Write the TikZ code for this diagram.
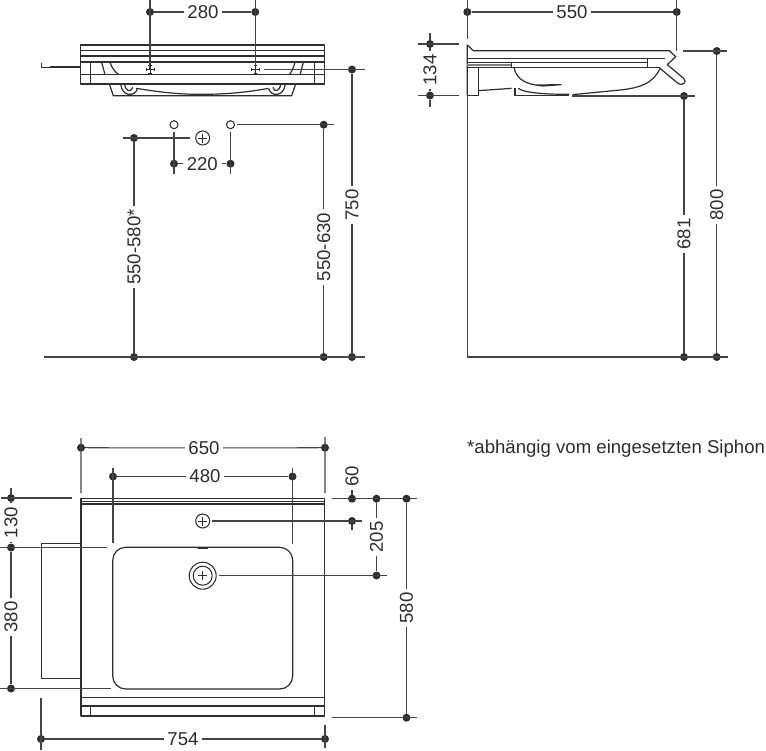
\documentclass[tikz,border=0pt]{standalone}
\usepackage{fontspec}
\setmainfont{Liberation Sans}
\definecolor{ink}{HTML}{2E2E2E}
\definecolor{dimc}{HTML}{444444}
\tikzset{
  outline/.style={draw=ink,line width=1.2pt,line join=round},
  thin outline/.style={draw=ink,line width=.9pt},
  dimline/.style={draw=dimc,line width=1.05pt},
  dimdot/.style={circle,fill=ink,inner sep=0pt,minimum size=8pt},
  dimlabel/.style={text=ink,inner sep=3.5pt,font=\fontsize{18.6}{20}\selectfont},
  vlabel/.style={dimlabel,rotate=90},
  hollow/.style={circle,draw=ink,line width=1.05pt,inner sep=0pt,fill=white},
}
\newcommand{\dd}[3]{\node[dimdot] (#1) at (#2,#3) {};}
\newcommand{\cc}[3]{\coordinate (#1) at (#2,#3);}
\newcommand{\plusmark}[3]{\draw[outline,line width=1pt] (#1-#3,#2) -- (#1+#3,#2) (#1,#2-#3) -- (#1,#2+#3);}
\newcommand{\fixcross}[2]{\draw[outline,line width=1pt] (#1-4.5,#2) -- (#1+4.5,#2) (#1,#2-4.5) -- (#1,#2+4.5)
  (#1-4,#2-1.8) -- (#1-4,#2+1.8) (#1+4,#2-1.8) -- (#1+4,#2+1.8) (#1-1.8,#2-4) -- (#1+1.8,#2-4) (#1-1.8,#2+4) -- (#1+1.8,#2+4);}
\begin{document}
\begin{tikzpicture}[x=1pt,y=-1pt]
\useasboundingbox (0,0) rectangle (766,750);
\fill[white] (0,0) rectangle (766,750);

% ---------- front view, drawn in 3x crop coordinates
\begin{scope}[shift={(30,0)},x=.33333pt,y=-.33333pt]
\draw[outline] (152,135) rectangle (884,186);
\draw[outline] (152,152) -- (884,152) (152,168) -- (884,168);
\draw[outline] (152,186) rectangle (884,252);
\draw[outline] (152,224) -- (884,224);
\draw[outline] (181,186) -- (181,252) (853,186) -- (853,252);
\draw[outline,line width=1.5pt] (35,188) -- (35,203) -- (152,203);
\draw[thin outline] (60,198) -- (152,198);
\draw[outline] (215,187) -- (225,224);
\draw[outline] (240,187) .. controls (246,205) and (255,215) .. (266,224);
\draw[outline] (820,187) -- (810,224);
\draw[outline] (795,187) .. controls (790,205) and (785,215) .. (778,224);
\draw[outline] (238,252) -- (250,287) -- (785,287) -- (797,252);
\draw[outline] (318,265) .. controls (400,278) and (450,283) .. (510,283) .. controls (590,283) and (650,277) .. (716,265);
\draw[outline] (272,252) .. controls (275,290) and (315,292) .. (322,266);
\draw[outline] (284,252) .. controls (286,275) and (304,278) .. (308,262);
\draw[outline] (766,252) .. controls (762,290) and (724,292) .. (716,266);
\draw[outline] (752,252) .. controls (750,275) and (732,278) .. (729,262);
\end{scope}

% ---------- side view, drawn in 3x crop coordinates
\begin{scope}[shift={(410,0)},x=.33333pt,y=-.33333pt]
\draw[outline] (172,286) -- (172,135) -- (190,152) -- (778,152) -- (797,170) -- (772,194)
  -- (822,236) .. controls (832,246) and (816,260) .. (804,250) -- (750,205);
\draw[outline] (172,175) -- (765,175) (172,188) -- (712,188) (172,203) -- (750,203);
\draw[draw=gray,line width=1.6pt] (172,195.5) -- (305,195.5);
\draw[outline] (712,175) -- (712,203) (305,188) -- (305,203);
\draw[outline] (312,203) .. controls (320,240) and (350,254) .. (400,258) -- (453,254) -- (380,255);
\draw[outline] (750,205) .. controls (730,250) and (690,265) .. (620,271) -- (488,284);
\draw[outline] (205,203) -- (205,286) -- (172,286);
\draw[outline] (205,272) -- (305,265);
\draw[outline] (315,265) -- (315,287) -- (478,287);
\draw[outline] (325,265) .. controls (340,278) and (400,283) .. (478,283);
\end{scope}

% ---------- plan view
\draw[outline] (81,498.7) rectangle (324.5,716);
\draw[outline] (81,501.7) -- (324.5,501.7) (81,504) -- (324.5,504);
\draw[outline] (81,697.7) -- (324.5,697.7) (81,706) -- (324.5,706);
\draw[outline] (90.7,706) -- (90.7,716) (314.7,706) -- (314.7,716);
\draw[outline] (81,543.3) -- (41.7,543.3) -- (41.7,678.3) -- (81,678.3);
\draw[outline,rounded corners=13pt] (112.7,547.3) rectangle (292.7,689);
\draw[ink,line width=2pt,line cap=round] (198,548.2) -- (207.5,548.2);

% ---------- fixing points
\node[hollow,minimum size=8pt] (holeA) at (174,124.7) {};
\node[hollow,minimum size=8pt] (holeB) at (230.5,124.7) {};
\node[hollow,minimum size=14pt] (tapA) at (202.7,138) {};
\plusmark{202.7}{138}{4.5}
\node[hollow,minimum size=14pt] (tapB) at (202.7,521) {};
\plusmark{202.7}{521}{4.5}
\node[hollow,minimum size=27pt] (drainO) at (202.7,575.7) {};
\node[hollow,minimum size=19pt] (drainI) at (202.7,575.7) {};
\plusmark{202.7}{575.7}{4.5}

% ---------- dimension dots
\dd{a1}{150}{12} \dd{a2}{255.3}{12}
\dd{b1}{352}{69.5} \dd{b2}{352}{357}
\dd{c1}{134}{138} \dd{c2}{134}{357}
\dd{d1}{323.7}{124.7} \dd{d2}{323.7}{357}
\dd{f1}{174}{163.7} \dd{f2}{230.5}{163.7}
\dd{g1}{467.3}{12} \dd{g2}{676.7}{12}
\dd{h1}{430}{44} \dd{h2}{430}{95.5}
\dd{i1}{716.7}{51} \dd{i2}{716.7}{357}
\dd{j1}{684}{96} \dd{j2}{684}{357}
\dd{k1}{81}{447.7} \dd{k2}{325}{447.7}
\dd{l1}{113}{476.5} \dd{l2}{292.5}{476.5}
\dd{m1}{11}{498} \dd{m2}{11}{547.5} \dd{m3}{11}{688.5}
\dd{n1}{41}{739} \dd{n2}{325}{739}
\dd{o1}{352}{498.7} \dd{o2}{352}{521}
\dd{p1}{376.5}{498.7} \dd{p2}{376.5}{575.5}
\dd{q1}{406.5}{498.7} \dd{q2}{406.5}{717.7}

% ---------- labels
\node[dimlabel] (t280) at (203,12) {280};
\node[vlabel] (t750) at (352,205) {750};
\node[vlabel] (t550a) at (134,247) {550-580*};
\node[vlabel] (t550b) at (323.7,247) {550-630};
\node[dimlabel] (t220) at (202.3,163.7) {220};
\node[dimlabel] (t550) at (572,12) {550};
\node[vlabel] (t134) at (430,70) {134};
\node[vlabel] (t800) at (716.7,205) {800};
\node[vlabel] (t681) at (684,234) {681};
\node[dimlabel] (t650) at (204,448) {650};
\node[dimlabel] (t480) at (205,476.5) {480};
\node[vlabel] (t130) at (11,522.5) {130};
\node[vlabel] (t380) at (11,617) {380};
\node[dimlabel] (t754) at (183,739) {754};
\node[vlabel] (t60) at (352,476) {60};
\node[vlabel] (t205) at (376.5,537) {205};
\node[vlabel] (t580) at (406.5,608) {580};
\node[dimlabel,anchor=west,inner sep=0pt] (note) at (467,449) {*abhängig vom eingesetzten Siphon};

% ---------- free ends
\cc{ea1}{150}{0} \cc{ea1b}{150}{69}
\cc{ea2}{255.3}{0} \cc{ea2b}{255.3}{69}
\cc{eb1}{264}{69.5} \cc{eb2}{365}{69.5}
\cc{ec1}{123}{138} \cc{ec2}{190}{138}
\cc{ed1}{237}{124.7} \cc{ed2}{334}{124.7}
\cc{ef1}{174}{132} \cc{ef2}{174}{174}
\cc{ef3}{230.5}{132} \cc{ef4}{230.5}{174}
\cc{eg1}{44}{357} \cc{eg2}{365}{357}
\cc{eh1}{467.3}{0} \cc{eh2}{467.3}{39}
\cc{eh3}{676.7}{0} \cc{eh4}{676.7}{51}
\cc{ei1}{418}{44} \cc{ei2}{459}{44}
\cc{ei3}{418}{95.5} \cc{ei4}{459}{95.5}
\cc{ei5}{430}{33} \cc{ei6}{430}{107}
\cc{ej1}{683}{51} \cc{ej2}{727}{51}
\cc{ek1}{572}{96} \cc{ek2}{695}{96}
\cc{el1}{467.3}{96} \cc{el2}{467.3}{357} \cc{el3}{728}{357}
\cc{em1}{81}{438} \cc{em2}{81}{493}
\cc{em3}{325}{437} \cc{em4}{325}{493}
\cc{en1}{113}{468} \cc{en2}{113}{543}
\cc{en3}{292.5}{468} \cc{en4}{292.5}{544}
\cc{eo1}{1}{498} \cc{eo2}{72}{498} \cc{eo3}{11}{488}
\cc{ep1}{0}{547.5} \cc{ep2}{107}{547.5}
\cc{eq1}{0}{688.5} \cc{eq2}{111}{688.5}
\cc{er1}{41}{698} \cc{er2}{41}{750}
\cc{er3}{325}{725} \cc{er4}{325}{748}
\cc{es1}{332}{498.7} \cc{es2}{417}{498.7}
\cc{et1}{212}{521} \cc{et2}{362}{521} \cc{et3}{352}{530}
\cc{eu1}{219}{575.5} \cc{eu2}{387}{575.5}
\cc{ev1}{332}{717.7} \cc{ev2}{417}{717.7}

% ---------- dimension lines
\begin{scope}[dimline]
\draw (a1) -- (t280) (t280) -- (a2);
\draw (ea1) -- (ea1b) (ea2) -- (ea2b);
\draw (eb1) -- (eb2) (b1) -- (t750) (t750) -- (b2);
\draw (ec1) -- (ec2) (c1) -- (t550a) (t550a) -- (c2);
\draw (ed1) -- (ed2) (d1) -- (t550b) (t550b) -- (d2);
\draw (ef1) -- (ef2) (ef3) -- (ef4) (f1) -- (t220) (t220) -- (f2);
\draw (eg1) -- (eg2);
\draw (eh1) -- (eh2) (eh3) -- (eh4) (g1) -- (t550) (t550) -- (g2);
\draw (ei1) -- (ei2) (ei3) -- (ei4) (ei5) -- (h1) (h1) -- (t134) (t134) -- (h2) (h2) -- (ei6);
\draw (ej1) -- (ej2) (i1) -- (t800) (t800) -- (i2);
\draw (ek1) -- (ek2) (j1) -- (t681) (t681) -- (j2);
\draw (el1) -- (el2) -- (el3);
\draw (em1) -- (em2) (em3) -- (em4) (k1) -- (t650) (t650) -- (k2);
\draw (en1) -- (en2) (en3) -- (en4) (l1) -- (t480) (t480) -- (l2);
\draw (eo1) -- (eo2) (eo3) -- (m1) (m1) -- (t130) (t130) -- (m2) (ep1) -- (ep2);
\draw (m2) -- (t380) (t380) -- (m3) (eq1) -- (eq2);
\draw (er1) -- (er2) (er3) -- (er4) (n1) -- (t754) (t754) -- (n2);
\draw (es1) -- (es2) (et1) -- (et2) (o2) -- (et3) (o1) -- (t60);
\draw (eu1) -- (eu2) (p1) -- (t205) (t205) -- (p2);
\draw (ev1) -- (ev2) (q1) -- (t580) (t580) -- (q2);
\end{scope}
\fixcross{150}{69.5}
\fixcross{255.3}{69.5}
\end{tikzpicture}
\end{document}
